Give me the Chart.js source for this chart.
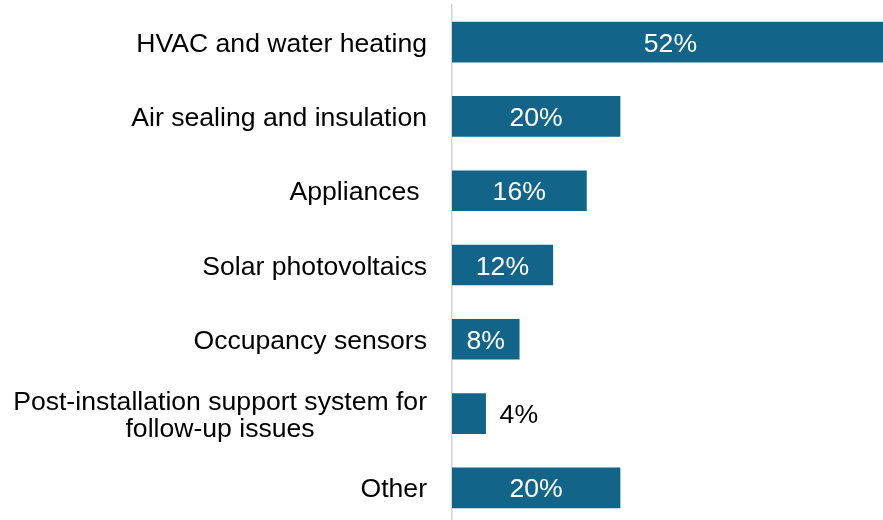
<!DOCTYPE html>
<html>
<head>
<meta charset="utf-8">
<script src="https://cdn.jsdelivr.net/npm/chart.js@4/dist/chart.umd.min.js"></script>
<style>
  html, body { margin: 0; padding: 0; background: #fff; overflow: hidden; }
  #wrap { position: relative; width: 883px; height: 525px; }
</style>
</head>
<body>
<div id="wrap"><canvas id="chart"></canvas></div>
<script>
// Share of responses per measure (percent)
const categories = [
  ['HVAC and water heating'],
  ['Air sealing and insulation'],
  ['Appliances '],
  ['Solar photovoltaics'],
  ['Occupancy sensors'],
  ['Post-installation support system for', 'follow-up issues'],
  ['Other']
];
const values = [52, 20, 16, 12, 8, 4, 20];
const valueLabels = ['52%', '20%', '16%', '12%', '8%', '4%', '20%'];

const FONT = '"Liberation Sans", Arial, Helvetica, sans-serif';
const FONT_SIZE = 26.6;
const BAR_COLOR = '#126588';

// Category names, right-aligned against the axis; wrapped lines centred on each other
const categoryLabels = {
  id: 'categoryLabels',
  afterDraw(chart) {
    const ctx = chart.ctx;
    const y = chart.scales.y;
    const right = y.right - 25;
    ctx.save();
    ctx.font = FONT_SIZE + 'px ' + FONT;
    ctx.fillStyle = '#000';
    ctx.textBaseline = 'alphabetic';
    ctx.textAlign = 'center';
    const lineH = 27;
    categories.forEach((lines, i) => {
      const cy = y.getPixelForValue(i);
      const maxW = Math.max(...lines.map(l => ctx.measureText(l).width));
      const cx = right - maxW / 2;
      const first = cy - (lines.length - 1) * lineH / 2;
      lines.forEach((l, k) => {
        ctx.fillText(l, cx, first + k * lineH + 9.5);
      });
    });
    ctx.restore();
  }
};

// Value labels: inside the bar in white, or just past the end when the bar is short
const valueLabelPlugin = {
  id: 'valueLabelPlugin',
  afterDatasetsDraw(chart) {
    const ctx = chart.ctx;
    const x = chart.scales.x;
    const y = chart.scales.y;
    ctx.save();
    ctx.font = FONT_SIZE + 'px ' + FONT;
    ctx.textBaseline = 'alphabetic';
    values.forEach((v, i) => {
      const x0 = x.getPixelForValue(0);
      const x1 = x.getPixelForValue(v);
      const cy = y.getPixelForValue(i) + 9.5;
      const text = valueLabels[i];
      const w = ctx.measureText(text).width;
      if (w + 8 < x1 - x0) {
        ctx.fillStyle = '#fff';
        ctx.textAlign = 'center';
        ctx.fillText(text, (x0 + x1) / 2, cy);
      } else {
        ctx.fillStyle = '#000';
        ctx.textAlign = 'left';
        ctx.fillText(text, x1 + 14, cy);
      }
    });
    ctx.restore();
  }
};

new Chart(document.getElementById('chart'), {
  type: 'bar',
  data: {
    labels: categories,
    datasets: [{
      data: values,
      backgroundColor: BAR_COLOR,
      borderWidth: 0,
      barThickness: 40
    }]
  },
  options: {
    indexAxis: 'y',
    responsive: true,
    maintainAspectRatio: false,
    animation: false,
    layout: { padding: { top: 5, right: 0, bottom: 0, left: 0 } },
    plugins: {
      legend: { display: false },
      tooltip: { enabled: false }
    },
    scales: {
      x: {
        display: false,
        min: 0,
        max: 51.3
      },
      y: {
        afterFit(scale) { scale.width = 452; },
        ticks: { display: false },
        grid: { display: false, drawTicks: false },
        border: { display: true, color: '#d4d4d4', width: 1.5 }
      }
    }
  },
  plugins: [categoryLabels, valueLabelPlugin]
});
</script>
</body>
</html>
